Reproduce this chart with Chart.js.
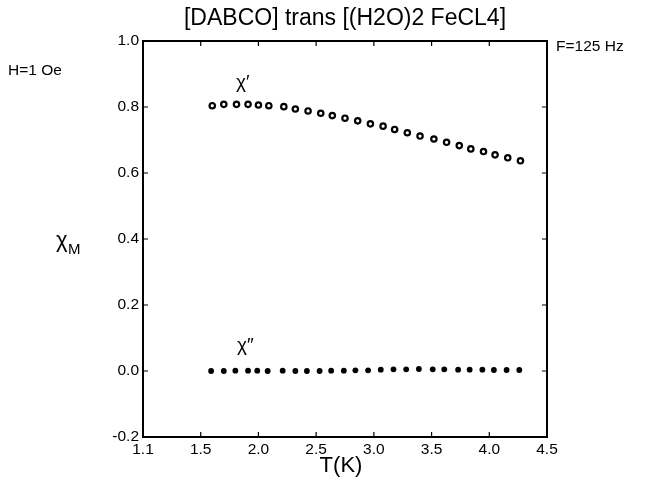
<!DOCTYPE html>
<html><head><meta charset="utf-8">
<script src="https://cdn.jsdelivr.net/npm/chart.js@4/dist/chart.umd.min.js"></script>
<style>html,body{margin:0;padding:0;background:#fff;overflow:hidden}</style>
</head><body>
<canvas id="c" width="651" height="483"></canvas>
<script>
// ---- data ----
const tChi1 = [1.60,1.70,1.81,1.91,2.00,2.09,2.22,2.32,2.43,2.54,2.64,2.75,2.86,2.97,3.08,3.18,3.29,3.40,3.52,3.63,3.74,3.84,3.95,4.05,4.16,4.27];
const chi1  = [0.804,0.808,0.808,0.808,0.806,0.804,0.801,0.794,0.788,0.781,0.774,0.766,0.758,0.749,0.742,0.732,0.722,0.712,0.703,0.693,0.683,0.673,0.665,0.655,0.646,0.637];
const tChi2 = [1.59,1.70,1.80,1.91,1.99,2.08,2.21,2.32,2.42,2.53,2.63,2.74,2.84,2.95,3.06,3.17,3.28,3.39,3.51,3.61,3.73,3.83,3.94,4.04,4.15,4.26];
const chi2  = [0.000,0.000,0.001,0.001,0.001,0.000,0.001,0.000,0.000,0.000,0.001,0.001,0.002,0.002,0.004,0.005,0.005,0.006,0.005,0.005,0.004,0.004,0.004,0.003,0.003,0.003];
const xTickPos = [1.0,1.5,2.0,2.5,3.0,3.5,4.0,4.5];
const xTickLabels = ["1.1","1.5","2.0","2.5","3.0","3.5","4.0","4.5"];
const yTickPos = [-0.2,0.0,0.2,0.4,0.6,0.8,1.0];
const yTickLabels = ["-0.2","0.0","0.2","0.4","0.6","0.8","1.0"];

const FONT = '"Liberation Sans", Arial, Helvetica, sans-serif';

const framePlugin = {
  id: 'frame',
  afterDraw(chart) {
    const ctx = chart.ctx, a = chart.chartArea;
    const xs = chart.scales.x, ys = chart.scales.y;
    ctx.save();
    ctx.strokeStyle = '#000';
    ctx.lineWidth = 2;
    ctx.strokeRect(a.left, a.top, a.right - a.left, a.bottom - a.top);
    ctx.lineWidth = 1.2;
    const L = 5;
    ctx.beginPath();
    xTickPos.forEach(v => {
      const px = xs.getPixelForValue(v);
      ctx.moveTo(px, a.bottom); ctx.lineTo(px, a.bottom - L);
      ctx.moveTo(px, a.top); ctx.lineTo(px, a.top + L);
    });
    yTickPos.forEach(v => {
      const py = ys.getPixelForValue(v);
      ctx.moveTo(a.left, py); ctx.lineTo(a.left + L, py);
      ctx.moveTo(a.right, py); ctx.lineTo(a.right - L, py);
    });
    ctx.stroke();
    // texts
    ctx.fillStyle = '#000';
    ctx.textBaseline = 'middle';
    ctx.textAlign = 'center';
    ctx.font = '23px ' + FONT;
    ctx.fillText('[DABCO] trans [(H2O)2 FeCL4]', 345, 19);
    ctx.font = '22px ' + FONT;
    ctx.fillText('T(K)', 341, 466);
    ctx.textAlign = 'left';
    ctx.font = '15.5px ' + FONT;
    ctx.fillText('H=1 Oe', 8, 71);
    ctx.fillText('F=125 Hz', 556, 47);
    ctx.font = '19px ' + FONT;
    ctx.fillText('\u03C7\u2032', 236, 83);
    ctx.fillText('\u03C7\u2033', 237, 346);
    ctx.font = '22px ' + FONT;
    ctx.fillText('\u03C7', 56, 241);
    ctx.font = '15px ' + FONT;
    ctx.fillText('M', 68, 250);
    ctx.restore();
  }
};

new Chart(document.getElementById('c'), {
  type: 'scatter',
  data: {
    datasets: [
      { label: "chi'", data: tChi1.map((t, i) => ({x: t, y: chi1[i]})),
        pointRadius: 2.7, pointBorderWidth: 2.2, pointBorderColor: '#000', pointBackgroundColor: '#fff', showLine: false },
      { label: "chi''", data: tChi2.map((t, i) => ({x: t, y: chi2[i]})),
        pointRadius: 2.9, pointBorderWidth: 0, pointBorderColor: '#000', pointBackgroundColor: '#000', showLine: false }
    ]
  },
  options: {
    responsive: false,
    animation: false,
    devicePixelRatio: 1,
    layout: { padding: { left: 0, right: 104, top: 41, bottom: 0 } },
    plugins: { legend: { display: false }, tooltip: { enabled: false }, title: { display: false } },
    scales: {
      x: {
        type: 'linear', min: 1.0, max: 4.5,
        grid: { display: false, drawTicks: false },
        border: { display: false },
        afterBuildTicks: s => { s.ticks = xTickPos.map(v => ({value: v})); },
        afterFit: s => { s.height = 46; },
        ticks: { color: '#000', font: { size: 15.5, family: FONT }, padding: 3, maxRotation: 0,
          callback: (v, i) => xTickLabels[i] }
      },
      y: {
        type: 'linear', min: -0.2, max: 1.0,
        grid: { display: false, drawTicks: false },
        border: { display: false },
        afterBuildTicks: s => { s.ticks = yTickPos.map(v => ({value: v})); },
        afterFit: s => { s.width = 143; },
        ticks: { color: '#000', font: { size: 15.5, family: FONT }, padding: 4,
          callback: (v, i) => yTickLabels[i] }
      }
    }
  },
  plugins: [framePlugin]
});
</script>
</body></html>
